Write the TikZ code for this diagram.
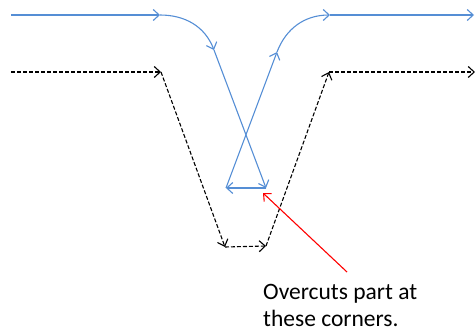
\documentclass[tikz,border=0pt]{standalone}
\usepackage{fontspec}
\setmainfont{Carlito}
\usetikzlibrary{arrows.meta}
\definecolor{pathBlue}{RGB}{85,142,213}

\begin{document}
\begin{tikzpicture}[x=1pt,y=1pt,
      tool/.style={-{Straight Barb[length=6pt,width=11pt]},line width=1.1pt,pathBlue},
      prog/.style={-{Straight Barb[length=6pt,width=11pt]},line width=1.1pt,black,dash pattern=on 4pt off 2pt},
      callout/.style={-{Straight Barb[length=6pt,width=11pt]},line width=1.1pt,red}
    ]
    \useasboundingbox (0,0) rectangle (475,333);
    % programmed path
    \coordinate (k0) at (11,261);
    \coordinate (k1) at (161,261);
    \coordinate (k2) at (225,86);
    \coordinate (k3) at (266,87);
    \coordinate (k4) at (329,261);
    \coordinate (k5) at (475,261);
    \draw[prog] (k0) -- (k1);
    \draw[prog] (k1) -- (k2);
    \draw[prog] (k2) -- (k3);
    \draw[prog] (k3) -- (k4);
    \draw[prog] (k4) -- (k5);
    % tool path
    \coordinate (b0) at (11,318);
    \coordinate (b1) at (160,318);
    \coordinate (b2) at (214,283);
    \coordinate (b3) at (266,145);
    \coordinate (b4) at (226,145);
    \coordinate (b5) at (277,281);
    \coordinate (b6) at (330,318);
    \coordinate (b7) at (474,318);
    \draw[tool] (b0) -- (b1);
    \draw[tool] (b1) to[out=0,in=111] (b2);
    \draw[tool] (b2) -- (b3);
    \draw[tool] (b3) -- (b4);
    \draw[tool] (b4) -- (b5);
    \draw[tool] (b5) to[out=69,in=180] (b6);
    \draw[tool] (b6) -- (b7);
    % note
    \node[anchor=north west,align=left,inner sep=0pt,font=\fontsize{23.5}{27}\selectfont] (note) at (263,49) {Overcuts part at\\these corners.};
    \coordinate (r0) at (347,61);
    \coordinate (r1) at (263,140);
    \draw[callout] (r0) -- (r1);
  \end{tikzpicture}
\end{document}
